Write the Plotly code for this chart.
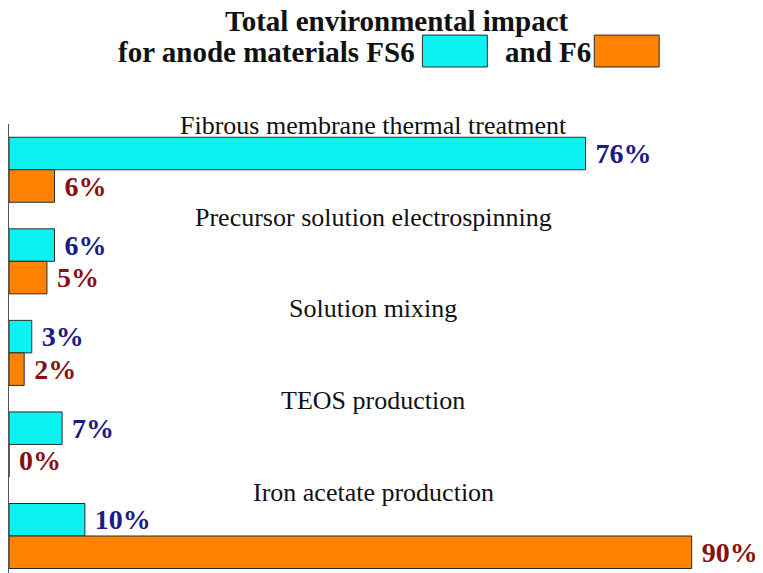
import plotly.graph_objects as go

categories = [
    "Fibrous membrane thermal treatment",
    "Precursor solution electrospinning",
    "Solution mixing",
    "TEOS production",
    "Iron acetate production",
]
fs6_values = [76, 6, 3, 7, 10]
f6_values = [6, 5, 2, 0, 90]
series_names = ["FS6", "F6"]

SERIF = "Liberation Serif, Times New Roman, serif"
CYAN = "#0CF2F2"
ORANGE = "#FF8200"
EDGE = "#2b2b2b"

fig = go.Figure()
fig.add_trace(go.Bar(
    y=categories, x=fs6_values, orientation="h", name=series_names[0],
    marker=dict(color=CYAN, line=dict(color=EDGE, width=1)),
    texttemplate="\u00a0%{x}%", textposition="outside", constraintext="none",
    textfont=dict(family=SERIF, size=28, color="#1b1b85", weight="bold"),
    cliponaxis=False,
))
fig.add_trace(go.Bar(
    y=categories, x=f6_values, orientation="h", name=series_names[1],
    marker=dict(color=ORANGE, line=dict(color=EDGE, width=1)),
    texttemplate="\u00a0%{x}%", textposition="outside", constraintext="none",
    textfont=dict(family=SERIF, size=28, color="#8a1010", weight="bold"),
    cliponaxis=False,
))

# category labels above each group
for c in categories:
    fig.add_annotation(
        x=0.483, xref="paper", y=c, yref="y", yshift=44,
        text=c, showarrow=False, xanchor="center", yanchor="middle",
        font=dict(family=SERIF, size=26, color="#111111"),
    )

# title with inline swatches
fig.add_annotation(
    x=0.514, y=1.230, xref="paper", yref="paper",
    text="<b>Total environmental impact</b>", showarrow=False,
    xanchor="center", yanchor="middle", borderpad=0,
    font=dict(family=SERIF, size=29, color="#111111"),
)
fig.add_annotation(
    x=0.5417, y=1.160, xref="paper", yref="paper",
    text="<b>for anode materials FS6</b>", showarrow=False,
    xanchor="right", yanchor="middle",
    font=dict(family=SERIF, size=29, color="#111111"),
)
fig.add_annotation(
    x=0.6556, y=1.160, xref="paper", yref="paper",
    text="<b>and F6</b>", showarrow=False,
    xanchor="left", yanchor="middle",
    font=dict(family=SERIF, size=29, color="#111111"),
)
fig.add_shape(type="rect", xref="paper", yref="paper",
              x0=0.5483, x1=0.6344, y0=1.127, y1=1.198,
              fillcolor=CYAN, line=dict(color=EDGE, width=1))
fig.add_shape(type="rect", xref="paper", yref="paper",
              x0=0.7762, x1=0.8623, y0=1.127, y1=1.198,
              fillcolor=ORANGE, line=dict(color=EDGE, width=1))

# page body has an 8px default margin, so the figure is sized to fit the window
fig.update_layout(
    width=755, height=565,
    margin=dict(l=1, r=0, t=116, b=0),
    paper_bgcolor="white", plot_bgcolor="white",
    barmode="group", bargap=0.29, bargroupgap=0,
    showlegend=False,
    xaxis=dict(range=[0, 99.4], showgrid=False, zeroline=False,
               showticklabels=False, showline=False),
    yaxis=dict(range=[4.404, -0.5], showgrid=False, zeroline=False,
               showticklabels=False, showline=True, linecolor="#555555",
               linewidth=1, ticks=""),
)

fig.write_html("out.html")
